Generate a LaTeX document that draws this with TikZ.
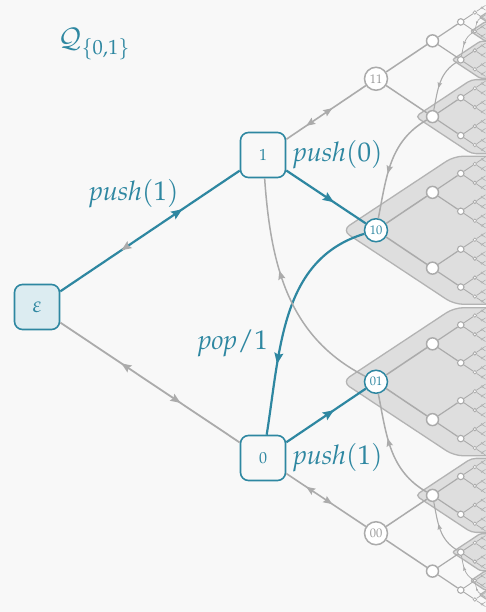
\documentclass[tikz,border=0pt]{standalone}
\usepackage[T1]{fontenc}
\usepackage{mathpazo}
\usetikzlibrary{arrows.meta,decorations.markings}

\definecolor{qteal}{HTML}{2E87A1}
\definecolor{qtealfill}{HTML}{DCECF1}
\definecolor{qline}{HTML}{ABABAB}
\definecolor{qtext}{HTML}{9A9A9A}
\definecolor{qregfill}{HTML}{DEDEDE}
\definecolor{qregdraw}{HTML}{B3B3B3}
\definecolor{qbg}{HTML}{F8F8F8}

\tikzset{
  qbox/.style={draw=qteal, line width=1.6pt, rounded corners=8pt, minimum size=45pt,
    inner sep=0pt, fill=qbg, text=qteal, font=\fontsize{16}{16}\selectfont},
  qsmall/.style={circle, draw=qline, line width=1.5pt, minimum size=23pt, inner sep=0pt,
    fill=white, text=qtext, font=\fontsize{12.5}{12.5}\selectfont},
  qsmallhi/.style={qsmall, draw=qteal, text=qteal},
  lbl/.style={text=qteal, font=\fontsize{27}{30}\selectfont, inner sep=0pt},
  greyedge/.style={draw=qline, line width=1.8pt},
  tealedge/.style={draw=qteal, line width=2.2pt},
  region/.style={fill=qregfill, draw=qregdraw, line width=1.3pt},
  fwd/.style n args={3}{postaction={decorate,decoration={markings,
    mark=at position #1 with {\arrow{Stealth[length=#2,width'={0pt 0.8},inset'={0pt 0.15},color=#3]}}}}},
  bwd/.style n args={3}{postaction={decorate,decoration={markings,
    mark=at position #1 with {\arrowreversed{Stealth[length=#2,width'={0pt 0.8},inset'={0pt 0.15},color=#3]}}}}},
}

\begin{document}
\begin{tikzpicture}[x=1pt,y=-1pt]
\fill[qbg] (0,0) rectangle (486,612);
\useasboundingbox (0,0) rectangle (486,612);
\clip (0,0) rectangle (486,612);

% shaded subtrees of 1^n0 and 0^n1 (s = scale of the subtree)
\foreach \s in {1,0.5,0.25,0.125,0.0625}{
  \pgfmathsetmacro\rr{9*\s}
  \pgfmathsetmacro\xx{263+226*(1-\s/2)}
  \pgfmathsetmacro\ya{3+227.25*\s}
  \pgfmathsetmacro\yb{609-227.25*\s}
  \foreach \yy in {\ya,\yb}{
    \pgfmathsetmacro\xl{\xx-34*\s}
    \pgfmathsetmacro\xc{\xx+78*\s}
    \pgfmathsetmacro\xr{\xx+200*\s}
    \pgfmathsetmacro\yt{\yy-74*\s}
    \pgfmathsetmacro\ybt{\yy+74*\s}
    \draw[region, rounded corners=\rr pt]
      (\xl,\yy) -- (\xc,\yt) -- (\xr,\yt) -- (\xr,\ybt) -- (\xc,\ybt) -- cycle;
  }
}

% root and first two levels
\node[qbox, fill=qtealfill, font=\fontsize{22}{22}\selectfont] (e) at (37,307) {$\varepsilon$};
\node[qbox, alias=t-1-1] (n1) at (263,155) {1};
\node[qbox, alias=t-1-0] (n0) at (263,458) {0};
\node[qsmall, alias=t-2-3] (n11) at (376,78.75) {11};
\node[qsmallhi, alias=t-2-2] (n10) at (376,230.25) {10};
\node[qsmallhi, alias=t-2-1] (n01) at (376,381.75) {01};
\node[qsmall, alias=t-2-0] (n00) at (376,533.25) {00};

% deeper levels of the tree: level / 2^(1-level) / circle size / line width
\foreach \k/\f/\dd/\ww in {3/0.25/12/1.5, 4/0.125/6.5/1.1, 5/0.0625/3.5/0.8, 6/0.03125/1.9/0.55}{
  \pgfmathtruncatemacro\nmax{2^\k-1}
  \pgfmathsetmacro\xx{263+226*(1-\f)}
  \foreach \i in {0,...,\nmax}{
    \pgfmathsetmacro\yy{609-(151.5*\f)*(2*\i+1)}
    \node[circle, draw=qline, fill=white, inner sep=0pt, minimum size=\dd pt,
          line width=\ww pt] (t-\k-\i) at (\xx,\yy) {};
  }
}
\foreach \i in {0,...,127}{
  \pgfmathsetmacro\yy{609-(151.5/64)*(2*\i+1)}
  \coordinate (t-7-\i) at (485.5,\yy);
}
\foreach \k/\ww in {3/1.5, 4/1.2, 5/0.9, 6/0.7, 7/0.55}{
  \pgfmathtruncatemacro\nmax{2^\k-1}
  \pgfmathtruncatemacro\kp{\k-1}
  \foreach \i in {0,...,\nmax}{
    \pgfmathtruncatemacro\p{div(\i,2)}
    \draw[draw=qline, line width=\ww pt] (t-\kp-\p) -- (t-\k-\i);
  }
}

% push edges (and pop back along them)
\draw[tealedge, fwd={0.68}{11pt}{qteal}, bwd={0.34}{10pt}{qline}] (e) -- (n1);
\draw[greyedge, fwd={0.67}{10pt}{qline}, bwd={0.34}{10pt}{qline}] (e) -- (n0);
\draw[greyedge, line width=1.6pt, fwd={0.58}{9pt}{qline}, bwd={0.25}{9pt}{qline}] (n1) -- (n11);
\draw[greyedge, line width=1.6pt, fwd={0.58}{9pt}{qline}, bwd={0.25}{9pt}{qline}] (n0) -- (n00);
\draw[tealedge, fwd={0.6}{11pt}{qteal}] (n1) -- (n10);
\draw[tealedge, fwd={0.6}{11pt}{qteal}] (n0) -- (n01);

% pop transitions
\draw[tealedge, fwd={0.7}{11pt}{qteal}] (n10) to[out=197,in=81] (n0);
\draw[greyedge, line width=1.5pt, fwd={0.6}{9pt}{qline}] (n01) to[out=153,in=-86] (n1);
\foreach \k/\ww/\al in {3/1.5/8, 4/1.1/5.6, 5/0.8/3.9, 6/0.6/2.7}{
  \pgfmathtruncatemacro\kp{\k-1}
  \pgfmathtruncatemacro\ia{2^\k-2}
  \pgfmathtruncatemacro\ib{2^\kp-2}
  \draw[draw=qline, line width=\ww pt, fwd={0.6}{\al pt}{qline}] (t-\k-\ia) to[out=210,in=79] (t-\kp-\ib);
  \draw[draw=qline, line width=\ww pt, fwd={0.6}{\al pt}{qline}] (t-\k-1) to[out=150,in=-79] (t-\kp-1);
}

% labels
\node[lbl] (title) at (94,44) {$\mathcal{Q}_{\{0,1\}}$};
\node[lbl] (lp1) at (134,194) {$\mathit{push}(1)$};
\node[lbl] (lp0) at (338,155) {$\mathit{push}(0)$};
\node[lbl] (lpop) at (233,343) {$\mathit{pop}/1$};
\node[lbl] (lp1b) at (338,458) {$\mathit{push}(1)$};
\end{tikzpicture}
\end{document}
